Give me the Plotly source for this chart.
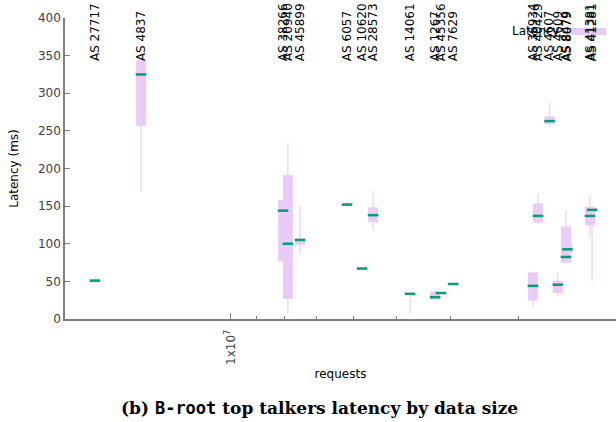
import math
import plotly.graph_objects as go

# ---- data ----
labels = ["AS 27717", "AS 4837", "AS 38266", "AS 20940", "AS 45899", "AS 6057",
          "AS 10620", "AS 28573", "AS 14061", "AS 1267", "AS 45356", "AS 7629",
          "AS 36934", "AS 40429", "AS 4607", "AS 4609", "AS 8479", "AS 8079",
          "AS 41381", "AS 41281"]
requests = [1.765e7, 1.456e7, 8.04e6, 7.88e6, 7.49e6, 6.155e6,
            5.78e6, 5.52e6, 4.73e6, 4.26e6, 4.155e6, 3.95e6,
            2.83e6, 2.77e6, 2.64e6, 2.55e6, 2.465e6, 2.45e6,
            2.23e6, 2.21e6]
lat_min = [49, 169, 77, 8, 86, 149, 65, 118, 7, 26, 33, 45,
           16, 126, 255.6, 31, 73, 86, 108.6, 49.6]
lat_q1 = [50, 257, 77, 27, 99, 151, 66, 129, 33, 26, 34, 46,
          25, 128.5, 259, 35, 75, 88, 125, 143]
lat_med = [51, 325, 144, 100, 105, 152, 67, 138, 33.5, 29, 34.5, 46.5,
           44, 137, 263, 45.6, 82.4, 92.6, 137, 145]
lat_q3 = [52, 344, 158, 191, 107, 154, 68, 148, 34, 36, 35, 48,
          61.5, 153, 269, 50.5, 122.7, 100, 149, 147]
lat_max = [57, 346, 158, 234, 150, 156, 68, 170, 34, 38, 36, 48,
           62, 167, 287.5, 61.6, 143.5, 110, 162.5, 148]

y_ticks = [0, 50, 100, 150, 200, 250, 300, 350, 400]
x_major = [1e7]
x_major_text = ["1x10<sup>7</sup>"]
x_minor = [9e6, 8e6, 7e6, 6e6, 5e6, 4e6, 3e6]

# ---- style ----
BOX_HALF = 0.0087  # box half-width in decades (log axis)
WFACT = 10 ** BOX_HALF
MFACT = 10 ** (BOX_HALF * 1.1)
BOX_FILL = "#eacbf6"
WHISKER = "#efd9f8"
MEDIAN = "#009e73"
FONT = "DejaVu Sans"
GRAY = "#7f7f7f"
TXT = "#404040"

wx, wy, bx, by, mx, my = [], [], [], [], [], []
for x, lo, q1, md, q3, hi in zip(requests, lat_min, lat_q1, lat_med, lat_q3, lat_max):
    wx += [x, x, None]
    wy += [lo, hi, None]
    xl, xr = x * WFACT, x / WFACT
    bx += [xl, xr, xr, xl, xl, None]
    by += [q1, q1, q3, q3, q1, None]
    mx += [x * MFACT, x / MFACT, None]
    my += [md, md, None]

fig = go.Figure()
fig.add_trace(go.Scatter(x=wx, y=wy, mode="lines", line=dict(color=WHISKER, width=1.5),
                         hoverinfo="skip", showlegend=False))
fig.add_trace(go.Scatter(x=bx, y=by, mode="lines", fill="toself", fillcolor=BOX_FILL,
                         line=dict(color=BOX_FILL, width=0.5), name="Latency", showlegend=False))
fig.add_trace(go.Scatter(x=mx, y=my, mode="lines", line=dict(color=MEDIAN, width=2.5),
                         hoverinfo="skip", showlegend=False))

for lab, x in zip(labels, requests):
    fig.add_annotation(x=math.log10(x), y=340, xref="x", yref="y", text=lab,
                       textangle=-90, showarrow=False, xanchor="center", yanchor="bottom",
                       font=dict(family=FONT, size=12, color="black"))

# legend (gnuplot style: text then sample)
fig.add_annotation(x=0.9, y=0.957, xref="paper", yref="paper", text="Latency", showarrow=False,
                   xanchor="right", yanchor="middle", font=dict(family=FONT, size=12, color="black"))
fig.add_shape(type="rect", xref="paper", yref="paper", x0=0.9147, x1=0.9819, y0=0.9435, y1=0.9668,
              fillcolor=BOX_FILL, line=dict(width=0))

# caption
fig.add_annotation(x=0.462, y=-0.296, xref="paper", yref="paper", showarrow=False,
                   xanchor="center", yanchor="middle",
                   text="<b>(b) <span style=\"font-family:'DejaVu Sans Mono'\">B-root</span> top talkers latency by data size</b>",
                   font=dict(family="DejaVu Serif", size=17, color="black"))

fig.update_layout(
    width=616, height=422,
    margin=dict(l=65, r=0, t=18, b=103),
    plot_bgcolor="white", paper_bgcolor="white",
    font=dict(family=FONT, size=12, color=TXT),
    xaxis=dict(type="log", range=[7.30103, 6.30103], showgrid=False, zeroline=False,
               showline=True, linecolor=GRAY, linewidth=1.5,
               tickmode="array", tickvals=x_major, ticktext=x_major_text,
               ticks="inside", ticklen=6, tickcolor=GRAY, tickangle=-90,
               ticklabelstandoff=4,
               tickfont=dict(family=FONT, size=12, color=TXT),
               minor=dict(tickmode="array", tickvals=x_minor, ticks="inside", ticklen=3,
                          tickcolor=GRAY, showgrid=False),
               title=dict(text="requests", standoff=6, font=dict(family=FONT, size=12, color="black"))),
    yaxis=dict(range=[0, 400], showgrid=False, zeroline=False, showline=True, linecolor=GRAY,
               linewidth=1.5, tickmode="array", tickvals=y_ticks, ticks="inside", ticklen=5,
               tickcolor=GRAY, tickfont=dict(family=FONT, size=12, color=TXT),
               title=dict(text="Latency (ms)", standoff=17, font=dict(family=FONT, size=12, color="black"))),
)

fig.write_html("out.html")
